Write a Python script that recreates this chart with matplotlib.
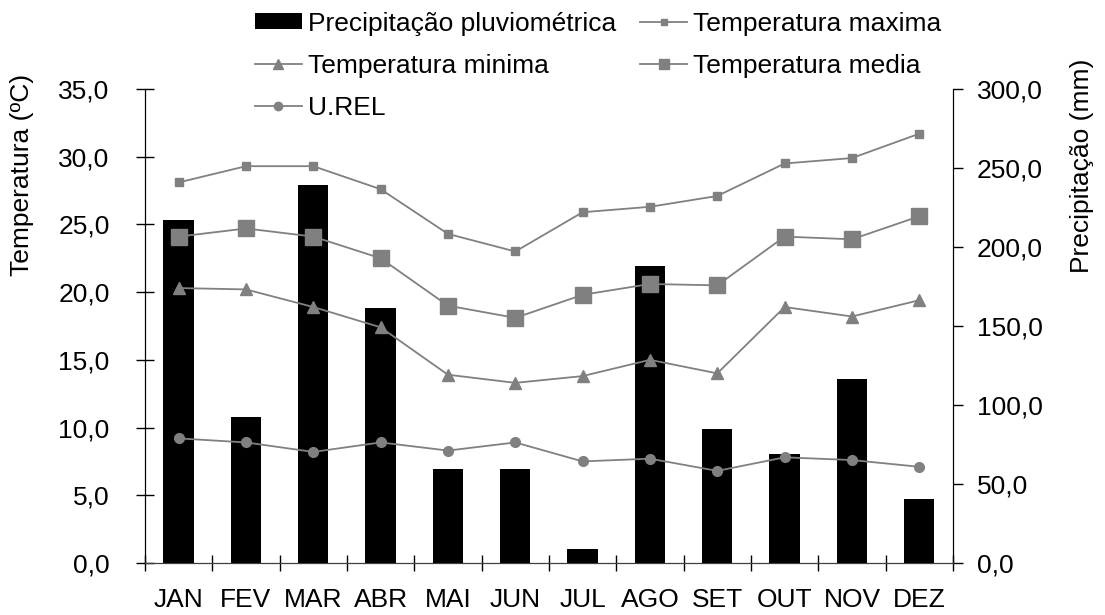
import matplotlib.pyplot as plt
import matplotlib.ticker as mticker
import numpy as np

plt.rcParams['font.family'] = ['Liberation Sans', 'DejaVu Sans']
plt.rcParams['font.size'] = 19

meses = ['JAN', 'FEV', 'MAR', 'ABR', 'MAI', 'JUN', 'JUL', 'AGO', 'SET', 'OUT', 'NOV', 'DEZ']
precip = [217.0, 92.6, 239.5, 161.2, 59.2, 59.2, 8.6, 188.1, 84.8, 69.1, 116.2, 40.8]
t_max = [28.1, 29.3, 29.3, 27.6, 24.3, 23.0, 25.9, 26.3, 27.1, 29.5, 29.9, 31.7]
t_med = [24.1, 24.7, 24.1, 22.5, 19.0, 18.1, 19.8, 20.6, 20.5, 24.1, 23.9, 25.6]
t_min = [20.3, 20.2, 18.9, 17.4, 13.9, 13.3, 13.8, 15.0, 14.0, 18.9, 18.2, 19.4]
u_rel = [9.2, 8.9, 8.2, 8.9, 8.3, 8.9, 7.5, 7.7, 6.8, 7.8, 7.6, 7.1]

cinza = '#808080'
x = np.arange(len(meses))

fig = plt.figure(figsize=(11.05, 6.15), dpi=100)
ax = fig.add_axes([0.1312, 0.0846, 0.7312, 0.7707])
ax2 = ax.twinx()

# barras atras das linhas
ax.set_zorder(ax2.get_zorder() + 1)
ax.patch.set_visible(False)

b = ax2.bar(x, precip, width=0.45, color='black', label='Precipitação pluviométrica')
l1, = ax.plot(x, t_max, color=cinza, lw=1.3, marker='s', ms=6, label='Temperatura maxima')
l2, = ax.plot(x, t_min, color=cinza, lw=1.3, marker='^', ms=8, label='Temperatura minima')
l3, = ax.plot(x, t_med, color=cinza, lw=1.3, marker='s', ms=11, label='Temperatura media')
l4, = ax.plot(x, u_rel, color=cinza, lw=1.3, marker='o', ms=7, label='U.REL')

ax.set_xlim(-0.5, 11.5)
ax.set_ylim(0, 35)
ax2.set_ylim(0, 300)
ax.set_yticks(np.arange(0, 36, 5))
ax2.set_yticks(np.arange(0, 301, 50))
fmt = mticker.FuncFormatter(lambda v, p: ('%.1f' % v).replace('.', ','))
ax.yaxis.set_major_formatter(fmt)
ax2.yaxis.set_major_formatter(fmt)

ax.set_xticks(x)
ax.set_xticklabels(meses)
ax.set_xticks(np.arange(-0.5, 12, 1), minor=True)
ax.tick_params(axis='x', which='major', length=0, pad=18)
ax.tick_params(axis='x', which='minor', direction='inout', length=12, width=1)
ax.tick_params(axis='y', direction='inout', length=13, width=1, pad=19)
ax2.tick_params(axis='y', direction='out', length=7, width=1, pad=10)

for a in (ax, ax2):
    a.spines['top'].set_visible(False)
ax.spines['bottom'].set_color('#404040')

fig.text(0.0199, 0.7154, 'Temperatura (ºC)', rotation=90, ha='center', va='center')
fig.text(0.979, 0.730, 'Precipitação (mm)', rotation=90, ha='center', va='center')

handles = [b, l2, l4, l1, l3]
leg = fig.legend(handles=handles, labels=[h.get_label() for h in handles], ncol=2,
                 loc='upper left', bbox_to_anchor=(255 / 1105, 0.981), frameon=False,
                 handlelength=1.78, handleheight=0.55, handletextpad=0.23,
                 columnspacing=0.9, labelspacing=0.69, borderpad=0, borderaxespad=0)
leg.legend_handles[4].set_markersize(7)
leg.legend_handles[3].set_markersize(5)
leg.legend_handles[1].set_markersize(7)
leg.legend_handles[2].set_markersize(6)

fig.savefig('out.png', dpi=100)
